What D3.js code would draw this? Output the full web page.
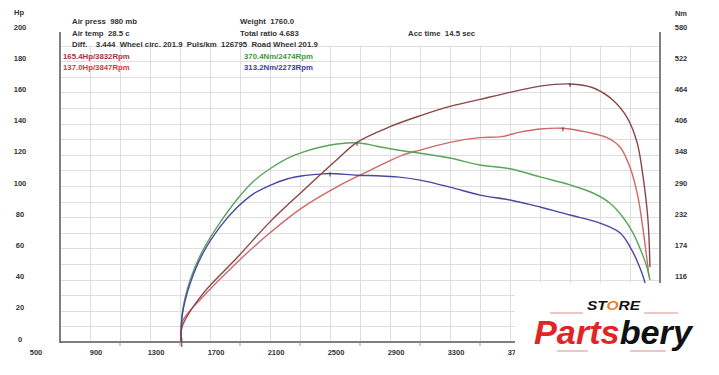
<!DOCTYPE html>
<html>
<head>
<meta charset="utf-8">
<script src="https://cdn.jsdelivr.net/npm/d3@7"></script>
<style>
  body { margin: 0; background: #fff; }
  svg { display: block; }
  text { font-family: "Liberation Sans", Arial, sans-serif; font-weight: bold; }
</style>
</head>
<body>
<div id="chart"></div>
<script>
// rpm as laid out on the sheet, power in hp, torque in Nm
const powerA = [
  [1508, 0], [1515, 10], [1653, 31], [1880, 54], [2100, 77], [2320, 97], [2547, 117],
  [2680, 128], [2900, 138], [3100, 145], [3300, 151], [3500, 155.5], [3700, 160],
  [3900, 164], [4100, 165.4], [4253, 163], [4387, 155], [4480, 144], [4547, 128],
  [4587, 106], [4620, 78], [4633, 48]
];
const powerB = [
  [1508, 0], [1515, 13], [1653, 29], [1880, 51], [2100, 70], [2320, 86.5], [2547, 99.5],
  [2767, 110], [2987, 120], [3100, 123], [3300, 128], [3500, 131], [3633, 131.5],
  [3767, 134.5], [3900, 136.5], [4053, 137], [4213, 134.5], [4347, 131], [4433, 125],
  [4500, 112], [4553, 93], [4587, 72], [4613, 53], [4627, 42]
];
const torqueA = [
  [1508, 0], [1515, 54], [1567, 115], [1653, 171], [1767, 222], [1880, 265], [1987, 298],
  [2100, 322], [2213, 341], [2320, 353], [2433, 362], [2547, 368], [2680, 370.4],
  [2813, 364], [2947, 357], [3100, 351], [3300, 342], [3500, 329], [3700, 322],
  [3900, 307], [4100, 292], [4253, 277], [4367, 258], [4453, 232], [4520, 203],
  [4580, 165], [4613, 139], [4633, 115]
];
const torqueB = [
  [1508, 0], [1515, 50], [1567, 108], [1653, 165], [1767, 214], [1880, 250], [1987, 275],
  [2100, 291], [2213, 303], [2320, 309], [2433, 312], [2500, 313.2], [2680, 310],
  [2813, 309], [2947, 307], [3100, 301], [3300, 288], [3500, 273], [3700, 264],
  [3900, 251], [4100, 236], [4300, 221], [4433, 203], [4500, 177], [4553, 147],
  [4600, 110], [4615, 80]
];

const hpTicks = [0, 20, 40, 60, 80, 100, 120, 140, 160, 180, 200];
const nmTicks = [116, 174, 232, 290, 348, 406, 464, 522, 580];
const rpmLabels = [500, 900, 1300, 1700, 2100, 2500, 2900, 3300, 3700];

const infoLines = [
  { x: 72, y: 24, text: "Air press  980 mb" },
  { x: 72, y: 36, text: "Air temp  28.5 c" },
  { x: 72, y: 47, text: "Diff.    3.444  Wheel circ. 201.9  Puls/km  126795  Road Wheel 201.9" },
  { x: 240, y: 24, text: "Weight  1760.0" },
  { x: 240, y: 36, text: "Total ratio 4.683" },
  { x: 408, y: 36, text: "Acc time  14.5 sec" }
];
const peakLabels = [
  { x: 63, y: 59, text: "165.4Hp/3832Rpm", color: "#a8323c" },
  { x: 63, y: 70, text: "137.0Hp/3847Rpm", color: "#d23c3c" },
  { x: 244, y: 59, text: "370.4Nm/2474Rpm", color: "#3c9a3c" },
  { x: 244, y: 70, text: "313.2Nm/2273Rpm", color: "#3c3ca5" }
];

const width = 719, height = 375;
const svg = d3.select("#chart").append("svg")
  .attr("width", width).attr("height", height);

const x = d3.scaleLinear().domain([700, 4700]).range([60, 660]);
const y = d3.scaleLinear().domain([0, 200]).range([342, 30]);
const yNm = d3.scaleLinear().domain([0, 580]).range([342, 30]);

// grid
const grid = svg.append("g").attr("stroke", "#dedede").attr("stroke-width", 1);
grid.selectAll("line.h").data(d3.range(10, 200, 10)).join("line")
  .attr("x1", 61).attr("x2", 659)
  .attr("y1", d => Math.round(y(d)) + 0.5).attr("y2", d => Math.round(y(d)) + 0.5);
grid.selectAll("line.v").data(d3.range(900, 4700, 200)).join("line")
  .attr("x1", d => Math.round(x(d)) + 0.5).attr("x2", d => Math.round(x(d)) + 0.5)
  .attr("y1", y(190)).attr("y2", 342);

// axes
const axisColor = "#555";
svg.append("line").attr("x1", 60).attr("x2", 60).attr("y1", 32).attr("y2", 343)
  .attr("stroke", axisColor).attr("stroke-width", 1.5);
svg.append("line").attr("x1", 660).attr("x2", 660).attr("y1", 32).attr("y2", 343)
  .attr("stroke", axisColor).attr("stroke-width", 1.5);
svg.append("line").attr("x1", 60).attr("x2", 660).attr("y1", 342).attr("y2", 342)
  .attr("stroke", axisColor).attr("stroke-width", 1.5);
svg.append("g").selectAll("line").data(d3.range(1100, 4700, 400)).join("line")
  .attr("x1", d => x(d)).attr("x2", d => x(d)).attr("y1", 342).attr("y2", 346)
  .attr("stroke", "#999");

svg.append("g").selectAll("text").data(hpTicks).join("text")
  .attr("x", 20).attr("y", d => y(d) - 3).attr("dy", "0.35em")
  .attr("text-anchor", "middle").attr("font-size", 7.5).attr("fill", "#333")
  .text(d => d);
svg.append("text").attr("x", 19).attr("y", 15).attr("text-anchor", "middle")
  .attr("font-size", 7.5).attr("fill", "#333").text("Hp");

svg.append("g").selectAll("text").data(nmTicks).join("text")
  .attr("x", 681).attr("y", d => yNm(d) - 3).attr("dy", "0.35em")
  .attr("text-anchor", "middle").attr("font-size", 7.5).attr("fill", "#333")
  .text(d => d);
svg.append("text").attr("x", 681).attr("y", 16).attr("text-anchor", "middle")
  .attr("font-size", 7.5).attr("fill", "#333").text("Nm");

svg.append("g").selectAll("text").data(rpmLabels).join("text")
  .attr("x", d => x(d) + 6).attr("y", 355)
  .attr("text-anchor", "middle").attr("font-size", 7.5).attr("fill", "#333")
  .text(d => d);

// header texts
svg.append("g").selectAll("text").data(infoLines).join("text")
  .attr("x", d => d.x).attr("y", d => d.y)
  .attr("font-size", 7.8).attr("fill", "#333")
  .style("white-space", "pre")
  .text(d => d.text);
svg.append("g").selectAll("text").data(peakLabels).join("text")
  .attr("x", d => d.x).attr("y", d => d.y)
  .attr("font-size", 7.8).attr("fill", d => d.color)
  .text(d => d.text);

// curves
const curves = [
  { data: powerB, scale: y, color: "#cf6868" },
  { data: torqueA, scale: yNm, color: "#5aa55a" },
  { data: torqueB, scale: yNm, color: "#4848a2" },
  { data: powerA, scale: y, color: "#8a4646" }
];
curves.forEach(c => {
  const line = d3.line()
    .x(d => x(d[0])).y(d => c.scale(d[1]))
    .curve(d3.curveCatmullRom.alpha(0.5));
  svg.append("path").datum(c.data)
    .attr("d", line).attr("fill", "none")
    .attr("stroke", c.color).attr("stroke-width", 1.4);
  const peak = c.data.reduce((a, b) => (b[1] > a[1] ? b : a));
  svg.append("line")
    .attr("x1", x(peak[0])).attr("x2", x(peak[0]))
    .attr("y1", c.scale(peak[1]) - 1).attr("y2", c.scale(peak[1]) + 3)
    .attr("stroke", "#333").attr("stroke-width", 1);
});
// short tail below the axis where the run starts
svg.append("line").attr("x1", x(1512)).attr("x2", x(1512))
  .attr("y1", y(0) - 4).attr("y2", y(0) + 5)
  .attr("stroke", "#6a5050").attr("stroke-width", 1.2);

// logo
const logo = svg.append("g");
logo.append("rect").attr("x", 515).attr("y", 283).attr("width", 204).attr("height", 92)
  .attr("fill", "#fff");
const store = logo.append("text").attr("x", 587).attr("y", 309.5)
  .attr("font-size", 13).attr("font-style", "italic").attr("fill", "#111")
  .attr("textLength", 53).attr("lengthAdjust", "spacingAndGlyphs")
  .style("font-weight", "900");
store.append("tspan").text("ST");
store.append("tspan").attr("fill", "#e8832c").text("O");
store.append("tspan").text("RE");
const lines = [[550, 583, 313], [644, 678, 313], [557, 588, 351], [630, 666, 351]];
logo.selectAll("line.deco").data(lines).join("line")
  .attr("x1", d => d[0]).attr("x2", d => d[1]).attr("y1", d => d[2]).attr("y2", d => d[2])
  .attr("stroke", "#d9908a").attr("stroke-width", 1);
const brand = logo.append("text").attr("x", 534).attr("y", 344)
  .attr("font-size", 33).attr("font-style", "italic")
  .attr("textLength", 158).attr("lengthAdjust", "spacingAndGlyphs")
  .style("font-weight", "900");
brand.append("tspan").attr("fill", "#e12424").text("Parts");
brand.append("tspan").attr("fill", "#111").text("bery");
</script>
</body>
</html>
